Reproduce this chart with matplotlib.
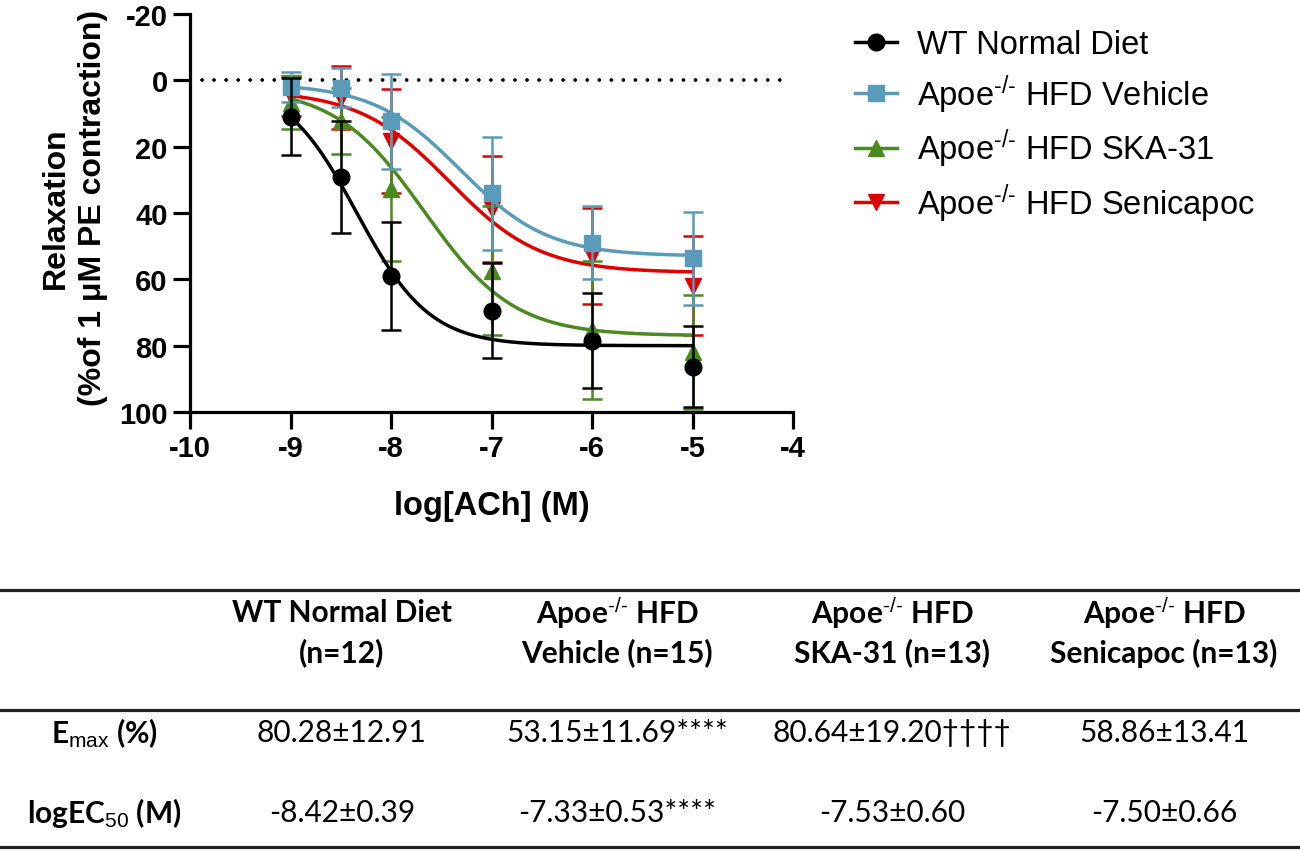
import matplotlib
matplotlib.use("Agg")
import matplotlib.pyplot as plt
from matplotlib import font_manager
from matplotlib.lines import Line2D
import numpy as np

plt.rcParams['font.family'] = ['Liberation Sans', 'DejaVu Sans']
plt.rcParams['axes.unicode_minus'] = False
plt.rcParams['mathtext.fontset'] = 'custom'
plt.rcParams['mathtext.rm'] = 'Liberation Sans'
plt.rcParams['mathtext.it'] = 'Liberation Sans:italic'
plt.rcParams['mathtext.bf'] = 'Liberation Sans:bold'

# concentrations, log[ACh] (M)
log_ach = [-9, -8.5, -8, -7, -6, -5]

groups = ['WT Normal Diet', 'Apoe$^{\\text{-/-}}$ HFD Vehicle',
          'Apoe$^{\\text{-/-}}$ HFD SKA-31', 'Apoe$^{\\text{-/-}}$ HFD Senicapoc']

# mean relaxation and SD for each group
wt_mean = [11.0, 29.1, 59.0, 69.4, 78.5, 86.3]
wt_sd = [11.6, 16.9, 16.3, 14.3, 14.3, 12.1]
veh_mean = [2.0, 2.2, 12.4, 34.1, 49.0, 53.7]
veh_sd = [4.5, 5.8, 14.3, 16.9, 11.0, 13.9]
ska_mean = [6.7, 12.2, 32.8, 57.4, 75.4, 81.9]
ska_sd = [8.0, 10.0, 21.6, 19.5, 20.8, 17.1]
sen_mean = [4.7, 5.2, 18.3, 38.8, 52.9, 61.9]
sen_sd = [6.0, 9.6, 15.6, 16.0, 14.4, 14.9]

# fitted curve parameters: top, bottom, logEC50, hill slope
wt_fit = [0, 80, -8.34, 1.2]
veh_fit = [1, 53, -7.31, 1.0]
ska_fit = [2, 77, -7.67, 0.975]
sen_fit = [3, 58, -7.42, 0.96]

# table
col_head1 = ['WT Normal Diet', 'Apoe$^{\\text{-/-}}$ HFD', 'Apoe$^{\\text{-/-}}$ HFD',
             'Apoe$^{\\text{-/-}}$ HFD']
col_head2 = ['(n=12)', 'Vehicle (n=15)', 'SKA-31 (n=13)', 'Senicapoc (n=13)']
row_labels = ['E$_{\\mathrm{max}}$ (%)', 'logEC$_{50}$ (M)']
emax_vals = ['80.28\u00b112.91', '53.15\u00b111.69****', '80.64\u00b119.20\u2020\u2020\u2020\u2020', '58.86\u00b113.41']
ec50_vals = ['-8.42\u00b10.39', '-7.33\u00b10.53****', '-7.53\u00b10.60', '-7.50\u00b10.66']

colors = ['#000000', '#5A9BB9', '#4A8A1F', '#E00000']
markers = ['o', 's', '^', 'v']


def sigmoid(x, top, bottom, logec50, hill):
    return top + (bottom - top) / (1 + 10 ** ((logec50 - x) * hill))


fig = plt.figure(figsize=(13, 8.53), dpi=100)
ax = fig.add_axes([0.1462, 0.5158, 0.4638, 0.4666])

means = [wt_mean, veh_mean, ska_mean, sen_mean]
sds = [wt_sd, veh_sd, ska_sd, sen_sd]
fits = [wt_fit, veh_fit, ska_fit, sen_fit]
xs = np.linspace(-9, -5, 300)

ax.axhline(0, xmin=0.02, xmax=0.98, color='black', lw=2.7,
           linestyle=(0, (0.01, 3.2)), dash_capstyle='round', zorder=1)

draw_order = [3, 2, 1, 0]
for i in draw_order:
    z = 3 + (3 - i)
    ax.errorbar(log_ach, means[i], yerr=sds[i], fmt='none', ecolor=colors[i],
                elinewidth=1.8, capsize=7, capthick=1.8, zorder=z)
    ax.plot(xs, sigmoid(xs, *fits[i]), color=colors[i], lw=2.5, zorder=z)
    ax.plot(log_ach, means[i], linestyle='none', marker=markers[i],
            color=colors[i], markersize=12, zorder=z)

ax.set_xlim(-10, -4)
ax.set_ylim(100, -20)
ax.set_xticks(range(-10, -3))
ax.set_yticks(range(-20, 101, 20))
for s in ['top', 'right']:
    ax.spines[s].set_visible(False)
for s in ['left', 'bottom']:
    ax.spines[s].set_linewidth(2.3)
ax.tick_params(width=2.3, length=12, labelsize=21, pad=4)
for lab in ax.get_xticklabels() + ax.get_yticklabels():
    lab.set_fontweight('bold')

ax.set_ylabel('Relaxation\n(%of 1 \u03bcM PE contraction)', fontsize=23,
              fontweight='bold', linespacing=1.3)
ax.yaxis.set_label_coords(-0.136, 0.515)
ax.set_xlabel('log[ACh] (M)', fontsize=23.5, fontweight='bold')
ax.xaxis.set_label_coords(0.5, -0.195)

handles = [Line2D([0], [0], color=colors[i], marker=markers[i], lw=2.5,
                  markersize=12) for i in range(4)]
fig.legend(handles, groups, loc='upper left', bbox_to_anchor=(0.635, 0.999),
           frameon=False, fontsize=23.5, handlelength=1.3, handletextpad=0.6,
           labelspacing=0.36)

# table below the chart
names = {f.name for f in font_manager.fontManager.ttflist}
tfont = ['Lato', 'DejaVu Sans'] if 'Lato' in names else ['DejaVu Sans']
tsize = 21.5

for yline in [0.3072, 0.1665, 0.0059]:
    fig.add_artist(Line2D([0, 1], [yline, yline], color='#222222', lw=2.3,
                          transform=fig.transFigure))

col_x = [0.263, 0.4746, 0.686, 0.8954]
for cx, h1, h2 in zip(col_x, col_head1, col_head2):
    fig.text(cx, 0.281, h1, ha='center', va='center', fontsize=tsize,
             fontweight='bold', family=tfont)
    fig.text(cx, 0.2345, h2, ha='center', va='center', fontsize=tsize,
             fontweight='bold', family=tfont)

row_y = [0.1407, 0.0469]
for ry, lab, vals in zip(row_y, row_labels, [emax_vals, ec50_vals]):
    fig.text(0.08, ry, lab, ha='center', va='center', fontsize=tsize,
             fontweight='bold', family=tfont)
    for cx, v in zip(col_x, vals):
        fig.text(cx, ry, v, ha='center', va='center', fontsize=tsize,
                 family=tfont)

fig.savefig('out.png', dpi=100)
